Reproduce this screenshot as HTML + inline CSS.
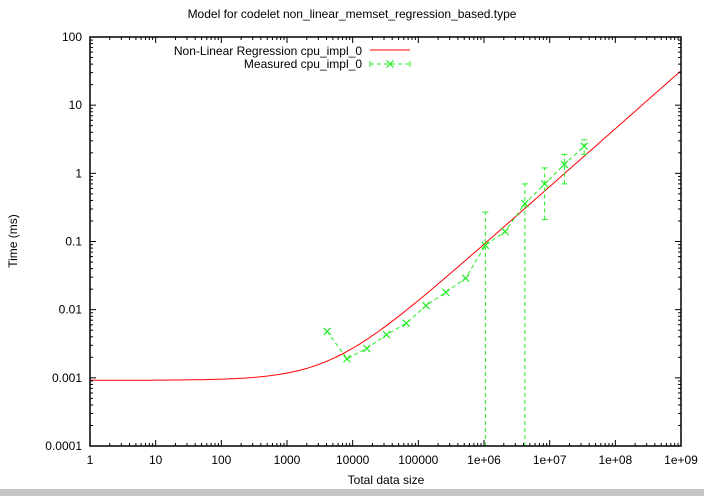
<!DOCTYPE html><html><head><style>body{margin:0;background:#fff}svg{display:block}text{font-family:"Liberation Sans",sans-serif;font-size:12px;fill:#000}</style></head><body>
<svg id="s" width="704" height="496" xmlns="http://www.w3.org/2000/svg">
<rect x="0" y="489" width="704" height="7" fill="#c4c4c4"/>
<text x="352" y="18" text-anchor="middle">Model for codelet non_linear_memset_regression_based.type</text>
<text x="386" y="484" text-anchor="middle">Total data size</text>
<text transform="translate(17,241) rotate(-90)" text-anchor="middle">Time (ms)</text>
<g id="g"></g>
<text x="362" y="55" text-anchor="end">Non-Linear Regression cpu_impl_0</text>
<line x1="370" y1="50" x2="410" y2="50" stroke="#f00"/>
<text x="362" y="68" text-anchor="end">Measured cpu_impl_0</text>
</svg>
<script>
var L=90,R=681,T=37,B=446,g=document.getElementById('g'),h='';
function X(v){return L+Math.log10(v)*(R-L)/9}
function Y(v){return B-(Math.log10(v)+4)*(B-T)/6}
var p=[];for(var i=0;i<=300;i++){var lx=i*9/300,x=Math.pow(10,lx),y=0.00092+7.16e-7*Math.pow(x,0.85);p.push(X(x).toFixed(1)+','+Y(y).toFixed(1));}
h+='<polyline points="'+p.join(' ')+'" fill="none" stroke="#f00" stroke-width="1"/>';
var d=[[4096,.0048],[8192,.0019],[16384,.0027],[32768,.0043],[65536,.0063],[131072,.0115],[262144,.018],[524288,.029],[1048576,.088],[2097152,.14],[4194304,.36],[8388608,.7],[16777216,1.35],[33554432,2.5]];
var q=d.map(function(a){return X(a[0]).toFixed(1)+','+Y(a[1]).toFixed(1)});
h+='<polyline points="'+q.join(' ')+'" fill="none" stroke="#2e2" stroke-dasharray="4,3"/>';
var e=[[1048576,0.0001,0.27],[4194304,0.0001,0.7],[8388608,0.21,1.2],[16777216,0.7,1.9],[33554432,1.9,3.1]];
e.forEach(function(a){var x=X(a[0]),y1=Y(a[1]),y2=Y(a[2]);h+='<line x1="'+x+'" y1="'+y1+'" x2="'+x+'" y2="'+y2+'" stroke="#2e2" stroke-dasharray="4,3"/>';
h+='<line x1="'+(x-3)+'" y1="'+y2+'" x2="'+(x+3)+'" y2="'+y2+'" stroke="#2e2"/>';if(a[1]>0.0001)h+='<line x1="'+(x-3)+'" y1="'+y1+'" x2="'+(x+3)+'" y2="'+y1+'" stroke="#2e2"/>';});
function cross(x,y){return '<path d="M'+(x-3.5)+' '+(y-3.5)+'L'+(x+3.5)+' '+(y+3.5)+'M'+(x-3.5)+' '+(y+3.5)+'L'+(x+3.5)+' '+(y-3.5)+'" stroke="#2e2" stroke-width="1.2"/>';}
d.forEach(function(a){h+=cross(X(a[0]),Y(a[1]))});
h+='<line x1="370" y1="64" x2="410" y2="64" stroke="#2e2" stroke-dasharray="4,3"/><line x1="370" y1="61" x2="370" y2="67" stroke="#2e2"/><line x1="410" y1="61" x2="410" y2="67" stroke="#2e2"/>'+cross(390,64);
h+='<rect x="'+L+'" y="'+T+'" width="'+(R-L)+'" height="'+(B-T)+'" fill="none" stroke="#000" stroke-width="1.5"/>';
var xl=['1','10','100','1000','10000','100000','1e+06','1e+07','1e+08','1e+09'];
for(var k=0;k<=9;k++){var x=L+k*(R-L)/9;h+='<line x1="'+x+'" y1="'+B+'" x2="'+x+'" y2="'+(B-6)+'" stroke="#000"/><line x1="'+x+'" y1="'+T+'" x2="'+x+'" y2="'+(T+6)+'" stroke="#000"/>';
h+='<text x="'+x+'" y="'+(B+18)+'" text-anchor="middle">'+xl[k]+'</text>';
if(k<9)for(var m=2;m<10;m++){var xm=x+Math.log10(m)*(R-L)/9;h+='<line x1="'+xm+'" y1="'+B+'" x2="'+xm+'" y2="'+(B-3)+'" stroke="#000"/><line x1="'+xm+'" y1="'+T+'" x2="'+xm+'" y2="'+(T+3)+'" stroke="#000"/>';}}
var yl=['0.0001','0.001','0.01','0.1','1','10','100'];
for(var k=0;k<=6;k++){var y=B-k*(B-T)/6;h+='<line x1="'+L+'" y1="'+y+'" x2="'+(L+6)+'" y2="'+y+'" stroke="#000"/><line x1="'+R+'" y1="'+y+'" x2="'+(R-6)+'" y2="'+y+'" stroke="#000"/>';
h+='<text x="'+(L-8)+'" y="'+(y+4)+'" text-anchor="end">'+yl[k]+'</text>';
if(k<6)for(var m=2;m<10;m++){var ym=y-Math.log10(m)*(B-T)/6;h+='<line x1="'+L+'" y1="'+ym+'" x2="'+(L+3)+'" y2="'+ym+'" stroke="#000"/><line x1="'+R+'" y1="'+ym+'" x2="'+(R-3)+'" y2="'+ym+'" stroke="#000"/>';}}
g.innerHTML=h;
</script></body></html>
